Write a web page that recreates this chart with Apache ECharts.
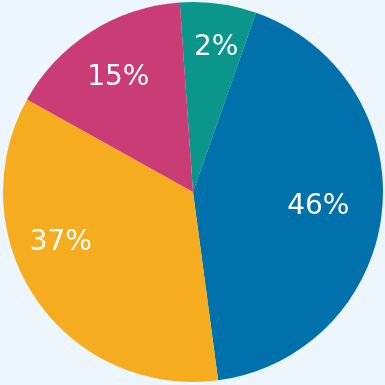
<!DOCTYPE html>
<html><head><meta charset="utf-8">
<script src="https://cdn.jsdelivr.net/npm/echarts@6/dist/echarts.min.js"></script>
<style>html,body{margin:0;padding:0;background:#eef6fd;}#c{width:385px;height:385px;}</style>
</head><body><div id="c"></div>
<script>
// slice values as drawn, in clockwise order from top
var categories = ['A', 'B', 'C', 'D'];
var values = [6.5, 42.5, 35.2, 15.8];
var labels = ['2%', '46%', '37%', '15%'];
var colors = ['#0b968c', '#0071aa', '#f5ad1f', '#c93c76'];
var labelOffsets = [[4, -3], [-17, 0], [-14, -30], [2, 6]];

var chart = echarts.init(document.getElementById('c'), null, {renderer: 'canvas'});
var mainData = categories.map(function (c, i) {
  return {name: c, value: values[i], itemStyle: {color: colors[i]}};
});
var labelData = categories.map(function (c, i) {
  return {name: c, value: values[i], label: {formatter: labels[i], offset: labelOffsets[i]}};
});
chart.setOption({
  backgroundColor: '#eef6fd',
  animation: false,
  series: [{
    type: 'pie',
    center: [193, 192],
    radius: 190,
    startAngle: 94,
    clockwise: true,
    label: {show: false},
    labelLine: {show: false},
    itemStyle: {borderWidth: 0},
    emphasis: {disabled: true},
    data: mainData
  }, {
    type: 'pie',
    center: [193, 192],
    radius: 280,
    startAngle: 94,
    clockwise: true,
    silent: true,
    itemStyle: {color: 'rgba(0,0,0,0)', borderWidth: 0},
    labelLine: {show: false},
    label: {show: true, position: 'inside', color: '#ffffff', fontSize: 28, fontFamily: 'DejaVu Sans', fontWeight: 'normal'},
    emphasis: {disabled: true},
    data: labelData
  }]
});
</script></body></html>
